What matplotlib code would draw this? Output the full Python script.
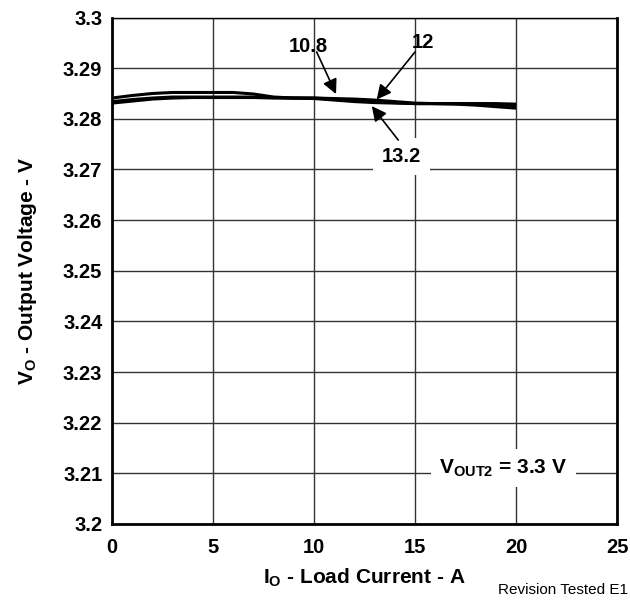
import matplotlib
matplotlib.use('Agg')
import matplotlib.pyplot as plt

plt.rcParams['font.family'] = ['Liberation Sans', 'DejaVu Sans']
plt.rcParams['font.weight'] = 'bold'
plt.rcParams['mathtext.fontset'] = 'custom'
plt.rcParams['mathtext.rm'] = 'Liberation Sans:bold'
plt.rcParams['mathtext.bf'] = 'Liberation Sans:bold'

# Load current (A) and output voltage (V) for each input voltage
load_current = [0, 1, 2, 3, 4, 5, 6, 7, 8, 9, 10, 11, 12, 13, 14, 15, 16, 17, 18, 19, 20]
vout_10p8 = [3.2841, 3.2846, 3.2850, 3.2852, 3.2852, 3.2852, 3.2852, 3.2849, 3.2843, 3.2841, 3.2841,
             3.2840, 3.2839, 3.2837, 3.2834, 3.2831, 3.2830, 3.2830, 3.2830, 3.2830, 3.2829]
vout_12 = [3.2834, 3.2838, 3.2841, 3.2843, 3.2843, 3.2843, 3.2843, 3.2843, 3.2842, 3.2841, 3.2841,
           3.2839, 3.2836, 3.2834, 3.2832, 3.2830, 3.2830, 3.2830, 3.2830, 3.2829, 3.2826]
vout_13p2 = [3.2831, 3.2835, 3.2839, 3.2841, 3.2842, 3.2842, 3.2842, 3.2842, 3.2841, 3.2841, 3.2840,
             3.2837, 3.2834, 3.2832, 3.2831, 3.2830, 3.2830, 3.2829, 3.2827, 3.2824, 3.2821]

x_ticks = [0, 5, 10, 15, 20, 25]
y_ticks = [3.2, 3.21, 3.22, 3.23, 3.24, 3.25, 3.26, 3.27, 3.28, 3.29, 3.3]
y_tick_labels = ['3.2', '3.21', '3.22', '3.23', '3.24', '3.25', '3.26', '3.27', '3.28', '3.29', '3.3']

fig = plt.figure(figsize=(6.3, 6.04), dpi=100)
ax = fig.add_axes([0.1778, 0.1325, 0.8016, 0.8385])

for v in [vout_10p8, vout_12, vout_13p2]:
    ax.plot(load_current, v, color='black', lw=2.2, solid_capstyle='butt', zorder=3)

ax.set_xlim(0, 25)
ax.set_ylim(3.2, 3.3)
ax.set_xticks(x_ticks)
ax.set_yticks(y_ticks)
ax.set_yticklabels(y_tick_labels)
ax.tick_params(axis='both', length=0, labelsize=14.5)
ax.tick_params(axis='x', pad=10)
ax.tick_params(axis='y', pad=7)
ax.grid(True, color='#333333', lw=1.0)
for side in ['left', 'bottom', 'right']:
    ax.spines[side].set_linewidth(2.0)
ax.spines['top'].set_linewidth(1.0)

ax.set_xlabel(r'$\mathregular{I_O}$ - Load Current - A', fontsize=15, fontweight='bold')
ax.set_ylabel(r'$\mathregular{V_O}$ - Output Voltage - V', fontsize=15, fontweight='bold')
ax.xaxis.set_label_coords(0.5, -0.1175)
ax.xaxis.label.set_verticalalignment('baseline')
ax.yaxis.set_label_coords(-0.156, 0.5)
ax.yaxis.label.set_verticalalignment('baseline')

arrow = dict(arrowstyle='-|>', color='black', lw=1.2, mutation_scale=22, shrinkA=0, shrinkB=0)

ax.text(9.70, 3.2942, '10.8', fontsize=14.5, ha='center', va='center', zorder=5)
ax.annotate('', xy=(11.09, 3.2849), xytext=(10.13, 3.2932), arrowprops=arrow, zorder=5)

ax.text(15.37, 3.2951, '12', fontsize=14.5, ha='center', va='center', zorder=5)
ax.annotate('', xy=(13.1, 3.2838), xytext=(15.0, 3.2932), arrowprops=arrow, zorder=5)

ax.text(14.34, 3.2725, '13.2', fontsize=14.5, ha='center', va='center', zorder=5,
        bbox=dict(boxstyle='square,pad=0.45', fc='white', ec='none'))
ax.annotate('', xy=(12.86, 3.2825), xytext=(14.17, 3.2758), arrowprops=arrow, zorder=5)

ax.text(19.37, 3.2110, r'$\mathregular{V_{OUT2}}$ = 3.3 V', fontsize=15, ha='center', va='center',
        zorder=5, bbox=dict(boxstyle='square,pad=0.4', fc='white', ec='none'))

fig.text(0.997, 0.012, 'Revision Tested E1', fontsize=11, fontweight='normal', ha='right', va='bottom')

fig.savefig('out.png', dpi=100)
